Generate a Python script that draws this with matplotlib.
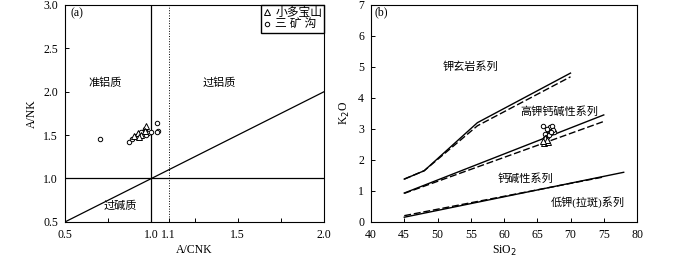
import numpy as np
import matplotlib
matplotlib.use("Agg")
import matplotlib.pyplot as plt

plt.rcParams['font.family'] = ['Liberation Serif', 'Noto Sans CJK SC']
plt.rcParams['font.size'] = 8.5

# (a) A/CNK - A/NK
xdb_acnk = [0.92, 0.97, 0.90, 0.94, 0.96, 0.93]
xdb_anK = [1.52, 1.60, 1.49, 1.50, 1.55, 1.48]
skg_acnk = [0.70, 0.87, 0.89, 0.91, 0.93, 0.95, 0.96, 0.98, 1.00, 1.03, 1.04, 1.03, 0.97, 0.94]
skg_anK = [1.46, 1.42, 1.45, 1.49, 1.51, 1.54, 1.57, 1.52, 1.53, 1.64, 1.55, 1.54, 1.50, 1.53]

# (b) SiO2 - K2O boundaries
sho_x = [45, 48, 56, 70]
sho_y = [1.38, 1.65, 3.2, 4.8]
sho_dx = [45, 48, 56, 70]
sho_dy = [1.38, 1.65, 3.1, 4.68]
hk_x = [45, 75]
hk_y = [0.93, 3.45]
hk_dx = [45, 75]
hk_dy = [0.92, 3.24]
ca_x = [45, 78]
ca_y = [0.15, 1.6]
ca_dx = [45, 75]
ca_dy = [0.2, 1.45]

xdb_si = [66.0, 66.3, 66.6, 66.2, 66.5, 65.9]
xdb_k = [2.55, 2.6, 2.58, 2.7, 2.65, 2.62]
skg_si = [65.8, 66.2, 66.6, 66.9, 67.2, 67.5, 66.4, 66.8, 67.3, 66.1, 67.0, 66.5]
skg_k = [3.1, 2.85, 2.95, 3.05, 3.08, 2.9, 2.75, 2.8, 2.95, 2.7, 2.9, 3.0]

fig = plt.figure(figsize=(7.0, 2.58), dpi=100)
ax1 = fig.add_axes([0.093, 0.140, 0.370, 0.841])
ax2 = fig.add_axes([0.530, 0.140, 0.380, 0.841])

mk = dict(mfc='white', mec='black', mew=0.7, ls='none')
zh = 8  # chinese label size

# ---- panel a
ax1.plot([1.0, 1.0], [0.5, 3.0], color='black', lw=0.9)
ax1.plot([1.1, 1.1], [0.5, 3.0], color='black', lw=0.7, ls=':')
ax1.plot([0.5, 2.0], [1.0, 1.0], color='black', lw=0.9)
ax1.plot([0.5, 2.0], [0.5, 2.0], color='black', lw=0.9)
ax1.plot(skg_acnk, skg_anK, marker='o', ms=3.2, label='三 矿 沟', **mk)
ax1.plot(xdb_acnk, xdb_anK, marker='^', ms=5, label='小多宝山', **mk)
ax1.set_xlim(0.5, 2.0)
ax1.set_ylim(0.5, 3.0)
ax1.set_xticks([0.5, 0.75, 1.0, 1.1, 1.25, 1.5, 1.75, 2.0])
ax1.set_xticklabels(['0.5', '', '1.0', '1.1', '', '1.5', '', '2.0'])
ax1.set_yticks([0.5, 1.0, 1.5, 2.0, 2.5, 3.0])
ax1.set_yticklabels(['0.5', '1.0', '1.5', '2.0', '2.5', '3.0'])
ax1.set_xlabel('A/CNK', labelpad=2)
ax1.set_ylabel('A/NK', labelpad=4)
ax1.text(0.73, 2.1, '准铝质', ha='center', va='center', fontsize=zh)
ax1.text(1.39, 2.1, '过铝质', ha='center', va='center', fontsize=zh)
ax1.text(0.82, 0.69, '过碱质', ha='center', va='center', fontsize=zh)
ax1.text(0.53, 2.9, '(a)', ha='left', va='center')
h, l = ax1.get_legend_handles_labels()
ax1.legend(h[::-1], l[::-1], loc='upper right', fancybox=False, edgecolor='black',
           handlelength=0.8, handletextpad=0.3, borderpad=0.15, labelspacing=0.05,
           borderaxespad=0.0, framealpha=1, fontsize=8.5)

# ---- panel b
for xs, ys in [(sho_x, sho_y), (hk_x, hk_y), (ca_x, ca_y)]:
    ax2.plot(xs, ys, color='black', lw=1.0)
for xs, ys in [(sho_dx, sho_dy), (hk_dx, hk_dy), (ca_dx, ca_dy)]:
    ax2.plot(xs, ys, color='black', lw=1.0, ls=(0, (5, 2)))
ax2.plot(skg_si, skg_k, marker='o', ms=3.2, **mk)
ax2.plot(xdb_si, xdb_k, marker='^', ms=4, **mk)
ax2.set_xlim(40, 80)
ax2.set_ylim(0, 7)
ax2.set_xticks(np.arange(40, 81, 5))
ax2.set_yticks(np.arange(0, 8, 1))
ax2.set_xlabel('SiO$_2$', labelpad=2)
ax2.set_ylabel('K$_2$O', labelpad=4)
ax2.text(55, 5.0, '钾玄岩系列', ha='center', va='center', fontsize=zh)
ax2.text(68.3, 3.56, '高钾钙碱性系列', ha='center', va='center', fontsize=zh)
ax2.text(63.2, 1.41, '钙碱性系列', ha='center', va='center', fontsize=zh)
ax2.text(72.6, 0.65, '低钾(拉斑)系列', ha='center', va='center', fontsize=zh)
ax2.text(40.6, 6.75, '(b)', ha='left', va='center')

for ax in (ax1, ax2):
    ax.tick_params(direction='in', length=3, width=0.7, pad=5)
    for s in ax.spines.values():
        s.set_linewidth(0.8)

fig.savefig('out.png', dpi=100)
